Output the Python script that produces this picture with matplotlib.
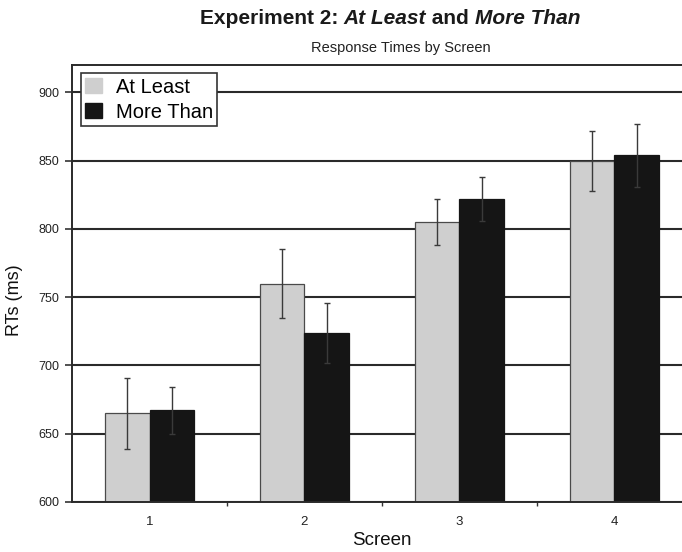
import matplotlib
matplotlib.use("Agg")
import matplotlib.pyplot as plt
from matplotlib.offsetbox import TextArea, HPacker, AnnotationBbox
from matplotlib.patches import Patch
import numpy as np

plt.rcParams['font.family'] = ['Liberation Sans', 'DejaVu Sans']

# Mean response times (ms) and error bars by screen
screens = ["1", "2", "3", "4"]
at_least = [665, 760, 805, 850]
at_least_err = [26, 25, 17, 22]
more_than = [667, 724, 822, 854]
more_than_err = [17, 22, 16, 23]
y_ticks = [600, 650, 700, 750, 800, 850, 900]

fig = plt.figure(figsize=(6.82, 5.52), dpi=100)
ax = fig.add_axes([0.1056, 0.0906, 0.909, 0.7916])

x = np.arange(1, len(screens) + 1)
w = 0.29

ax.set_axisbelow(True)
ax.yaxis.grid(True, color="#2a2a2a", linewidth=1.5)

ax.bar(x - w / 2, at_least, w, color="#cfcfcf", edgecolor="#4a4a4a",
       linewidth=0.9, zorder=2)
ax.bar(x + w / 2, more_than, w, color="#151515", edgecolor="#151515",
       linewidth=0.9, zorder=2)
ax.errorbar(x - w / 2, at_least, yerr=at_least_err, fmt="none",
            ecolor="#3a3a3a", elinewidth=1.0, capsize=2.5, capthick=1.0, zorder=3)
ax.errorbar(x + w / 2, more_than, yerr=more_than_err, fmt="none",
            ecolor="#3a3a3a", elinewidth=1.0, capsize=2.5, capthick=1.0, zorder=3)

ax.set_xlim(0.5, 4.5)
ax.set_ylim(600, 920)
ax.set_yticks(y_ticks)
ax.set_yticklabels([str(v) for v in y_ticks], fontsize=9, color="#222222")
ax.set_xticks(x)
ax.set_xticklabels(screens, fontsize=9.5, color="#222222")
ax.set_xticks([1.5, 2.5, 3.5], minor=True)
ax.tick_params(axis="x", which="major", length=0, pad=10)
ax.tick_params(axis="x", which="minor", length=3, width=1, color="#333333")
ax.tick_params(axis="y", length=5, width=1.2, color="#333333", pad=4)

for side in ("left", "bottom", "top"):
    ax.spines[side].set_color("#2a2a2a")
    ax.spines[side].set_linewidth(1.4)
ax.spines["right"].set_visible(False)

ax.set_ylabel("RTs (ms)", fontsize=13, color="#111111")
ax.yaxis.set_label_coords(-0.079, 0.462)
ax.set_xlabel("Screen", fontsize=13.5, color="#111111")
ax.xaxis.set_label_coords(0.499, -0.068)

handles = [Patch(facecolor="#cfcfcf", edgecolor="#cfcfcf", label="At Least"),
           Patch(facecolor="#151515", edgecolor="#151515", label="More Than")]
leg = ax.legend(handles=handles, loc="upper left", bbox_to_anchor=(0.0145, 0.981),
                fontsize=14.5, frameon=True, fancybox=False, framealpha=1,
                edgecolor="#333333", handlelength=0.8, handleheight=0.75,
                handletextpad=0.7, borderpad=0.22, labelspacing=0.3,
                borderaxespad=0)
leg.get_frame().set_linewidth(1.2)

# Title with italic phrases
title_parts = [("Experiment 2: ", "normal"), ("At Least", "italic"),
               (" and ", "normal"), ("More Than", "italic")]
areas = [TextArea(t, textprops=dict(fontsize=15, fontweight="bold",
                                    fontstyle=s, color="#1a1a1a"))
         for t, s in title_parts]
pack = HPacker(children=areas, align="baseline", pad=0, sep=0)
ab = AnnotationBbox(pack, (390 / 682, 1 - 18 / 552), xycoords="figure fraction",
                    frameon=False, box_alignment=(0.5, 0.5))
fig.add_artist(ab)

fig.text(401 / 682, 1 - 48 / 552, "Response Times by Screen", fontsize=10.5,
         ha="center", va="center", color="#222222")

fig.savefig("out.png", dpi=100)
